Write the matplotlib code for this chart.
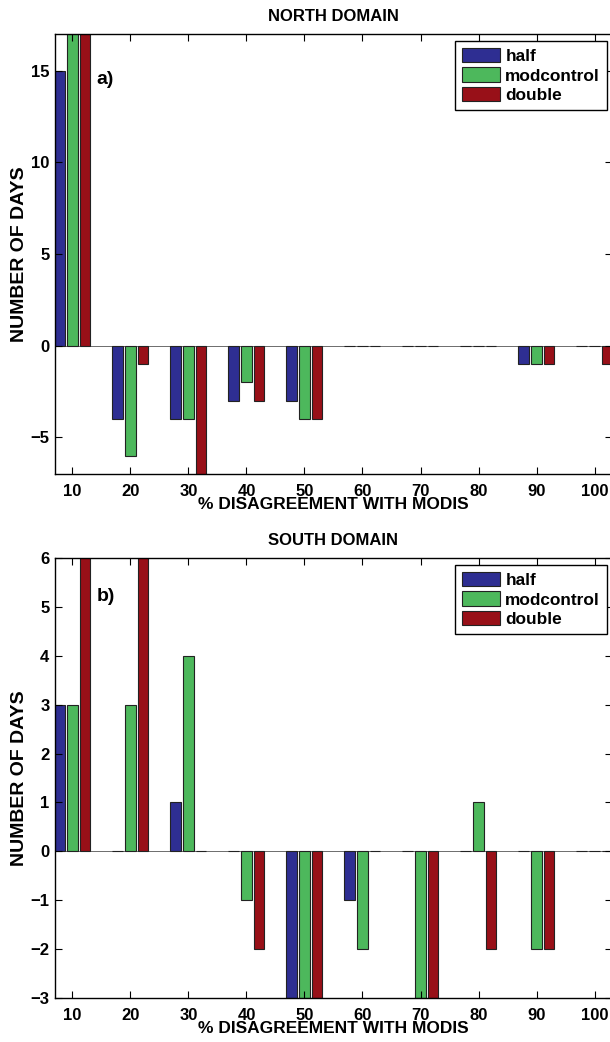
import numpy as np
import matplotlib
matplotlib.use('Agg')
import matplotlib.pyplot as plt

plt.rcParams['font.family'] = ['Liberation Sans', 'DejaVu Sans']
plt.rcParams['font.weight'] = 'bold'

# Data (bars beyond the axis limits are clipped in the original)
bins = [10, 20, 30, 40, 50, 60, 70, 80, 90, 100]
series = ['half', 'modcontrol', 'double']

north_half = [15, -4, -4, -3, -3, 0, 0, 0, -1, 0]
north_mod = [20, -6, -4, -2, -4, 0, 0, 0, -1, 0]
north_double = [22, -1, -8, -3, -4, 0, 0, 0, -1, -1]

south_half = [3, 0, 1, 0, -3, -1, 0, 0, 0, 0]
south_mod = [3, 3, 4, -1, -3, -2, -3, 1, -2, 0]
south_double = [8, 7, 0, -2, -3, 0, -3, -2, -2, 0]

colors = ['#2E2E92', '#4DB85C', '#981018']

fig = plt.figure(figsize=(6.1, 10.42), dpi=100)
ax1 = fig.add_axes([0.0902, 0.5451, 0.913, 0.4223])
ax2 = fig.add_axes([0.0902, 0.0422, 0.913, 0.4223])


def draw_panel(ax, data, title, tag, ylim, yticks, tag_y):
    x = np.array(bins, dtype=float)
    offsets = [-2.2, 0.0, 2.15]
    for vals, off, col, name in zip(data, offsets, colors, series):
        ax.bar(x + off, vals, width=1.85, color=col, edgecolor='#222222',
               linewidth=0.8, label=name)
    ax.axhline(0, color='#555555', linewidth=0.6, zorder=0.5)
    ax.set_xlim(7, 103)
    ax.set_ylim(*ylim)
    ax.set_xticks(bins)
    ax.set_yticks(yticks)
    ax.set_yticklabels([str(t).replace('-', '\u2212') for t in yticks])
    ax.tick_params(direction='in', top=True, right=True, length=5,
                   labelsize=12, width=0.8)
    ax.tick_params(axis='x', pad=7)
    ax.tick_params(axis='y', pad=4)
    for lab in ax.get_xticklabels() + ax.get_yticklabels():
        lab.set_fontweight('bold')
    for s in ax.spines.values():
        s.set_linewidth(1.0)
    ax.set_title(title, fontsize=12, fontweight='bold', pad=9)
    ax.set_xlabel('% DISAGREEMENT WITH MODIS', fontsize=12.5,
                  fontweight='bold', labelpad=-1)
    ax.set_ylabel('NUMBER OF DAYS', fontsize=14, fontweight='bold',
                  labelpad=2)
    ax.text(14.2, tag_y, tag, fontsize=14, fontweight='bold',
            va='center', ha='left')
    leg = ax.legend(loc='upper right', bbox_to_anchor=(0.991, 0.984),
                    borderaxespad=0, fancybox=False, framealpha=1,
                    edgecolor='black', prop={'weight': 'bold', 'size': 12.4},
                    handlelength=2.2, handleheight=0.9, handletextpad=0.3,
                    labelspacing=0.2, borderpad=0.4)
    leg.get_frame().set_linewidth(1.0)


draw_panel(ax1, [north_half, north_mod, north_double], 'NORTH DOMAIN',
           'a)', (-7, 17), [-5, 0, 5, 10, 15], 14.5)
draw_panel(ax2, [south_half, south_mod, south_double], 'SOUTH DOMAIN',
           'b)', (-3, 6), [-3, -2, -1, 0, 1, 2, 3, 4, 5, 6], 5.22)

fig.savefig('out.png', dpi=100)
